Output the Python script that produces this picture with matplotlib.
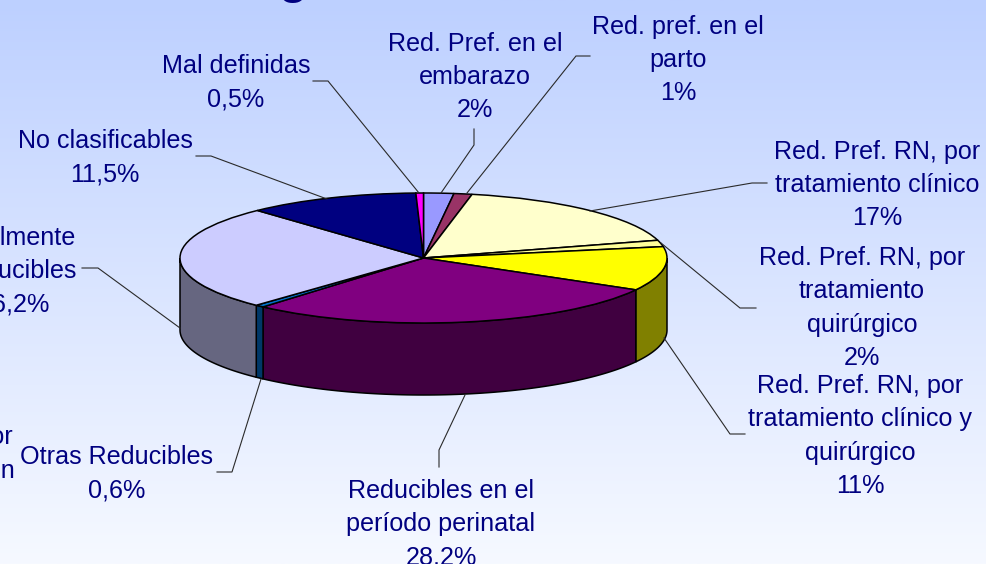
import numpy as np
import matplotlib
matplotlib.use("Agg")
import matplotlib.pyplot as plt

plt.rcParams['font.family'] = ['Liberation Sans', 'DejaVu Sans']

# Slice shares, clockwise from the top
values = [2, 1.2, 17.4, 1.6, 10.95, 28.3, 0.6, 26, 11.45, 0.5]
top_colors = ['#9999FF', '#993366', '#FFFFCC', '#FFFF99', '#FFFF00',
              '#800080', '#0070C8', '#CCCCFF', '#000080', '#FF00FF']
side_colors = ['#4C4C80', '#4C1933', '#808066', '#80804C', '#808000',
               '#400040', '#003868', '#666680', '#000040', '#800080']

# Label text and its centre in pixels
labels = ['Red. Pref. en el\nembarazo\n2%', 'Red. pref. en el\nparto\n1%',
          'Mal definidas\n0,5%', 'No clasificables\n11,5%',
          'Red. Pref. RN, por\ntratamiento clínico\n17%',
          'Red. Pref. RN, por\ntratamiento\nquirúrgico\n2%',
          'Red. Pref. RN, por\ntratamiento clínico y\nquirúrgico\n11%',
          'Reducibles en el\nperíodo perinatal\n28,2%',
          'Otras Reducibles\n0,6%', 'Fácilmente\nReducibles\n26,2%',
          'Reducibles por\nde intervención']
label_x = [475, 678, 236, 105, 877, 862, 860, 441, 117, 14, -71]
label_y = [77, 60, 83, 158, 185, 308, 436, 524, 474, 271, 454]

# Leader lines in pixels
leaders = [[(313, 81), (328, 81), (419, 193)],
           [(474, 129), (474, 145), (441, 193)],
           [(590, 56), (576, 56), (467, 193)],
           [(196, 156), (211, 156), (327, 199)],
           [(767, 183), (752, 183), (590, 211)],
           [(756, 308), (740, 308), (661, 243)],
           [(745, 434), (730, 434), (664, 338)],
           [(439, 467), (439, 450), (465, 395)],
           [(217, 472), (232, 472), (261, 379)],
           [(82, 268), (98, 268), (180, 328)]]

W, H = 986, 564
navy = '#000080'

fig = plt.figure(figsize=(W / 100, H / 100), dpi=100)

# Background gradient
bg = fig.add_axes([0, 0, 1, 1])
grad = np.linspace(0, 1, 256)[:, None, None]
bg.imshow((1 - grad) * np.array([[[189, 208, 255]]]) / 255 + grad * np.array([[[246, 249, 255]]]) / 255,
          aspect='auto', extent=(0, W, H, 0))
bg.set_xlim(0, W)
bg.set_ylim(H, 0)
bg.axis('off')

# Pie axes: the unit circle is squashed into the top ellipse
cx, cy, rx, ry, depth = 423.5, 258, 243.5, 65, 72
ax = fig.add_axes([(cx - rx) / W, 1 - (cy + ry) / H, 2 * rx / W, 2 * ry / H])
ax.pie(values, colors=top_colors, startangle=90, counterclock=False, radius=1,
       wedgeprops={'edgecolor': 'black', 'linewidth': 1.1, 'zorder': 3})
ax.set_aspect('auto')
ax.set_xlim(-1, 1)
ax.set_ylim(-1, 1)

# Side wall of the front half
edges = np.concatenate([[0], np.cumsum(values)]) / np.sum(values) * 360
drop = depth / ry
for a, b, col in zip(edges[:-1], edges[1:], side_colors):
    lo, hi = max(a, 90), min(b, 270)
    if hi <= lo:
        continue
    t = np.radians(np.linspace(lo, hi, 80))
    xs = np.concatenate([np.sin(t), np.sin(t[::-1])])
    ys = np.concatenate([np.cos(t), np.cos(t[::-1]) - drop])
    ax.fill(xs, ys, facecolor=col, edgecolor='black', linewidth=1.1, zorder=2, clip_on=False)

# Overlay for text and leaders
over = fig.add_axes([0, 0, 1, 1])
over.set_xlim(0, W)
over.set_ylim(H, 0)
over.axis('off')
over.patch.set_alpha(0)

for pts in leaders:
    xs, ys = zip(*pts)
    over.plot(xs, ys, color='#2A2A2A', lw=0.8, solid_joinstyle='miter')

for txt, x, y in zip(labels, label_x, label_y):
    over.text(x, y, txt, color=navy, fontsize=18.1, ha='center', va='center',
              multialignment='center', linespacing=1.48, clip_on=True)

# Bottom of the cropped title
over.text(293, -7, 'g', color=navy, fontsize=34, fontweight='bold', ha='center',
          va='baseline', clip_on=True)

fig.savefig('out.png', dpi=100)
